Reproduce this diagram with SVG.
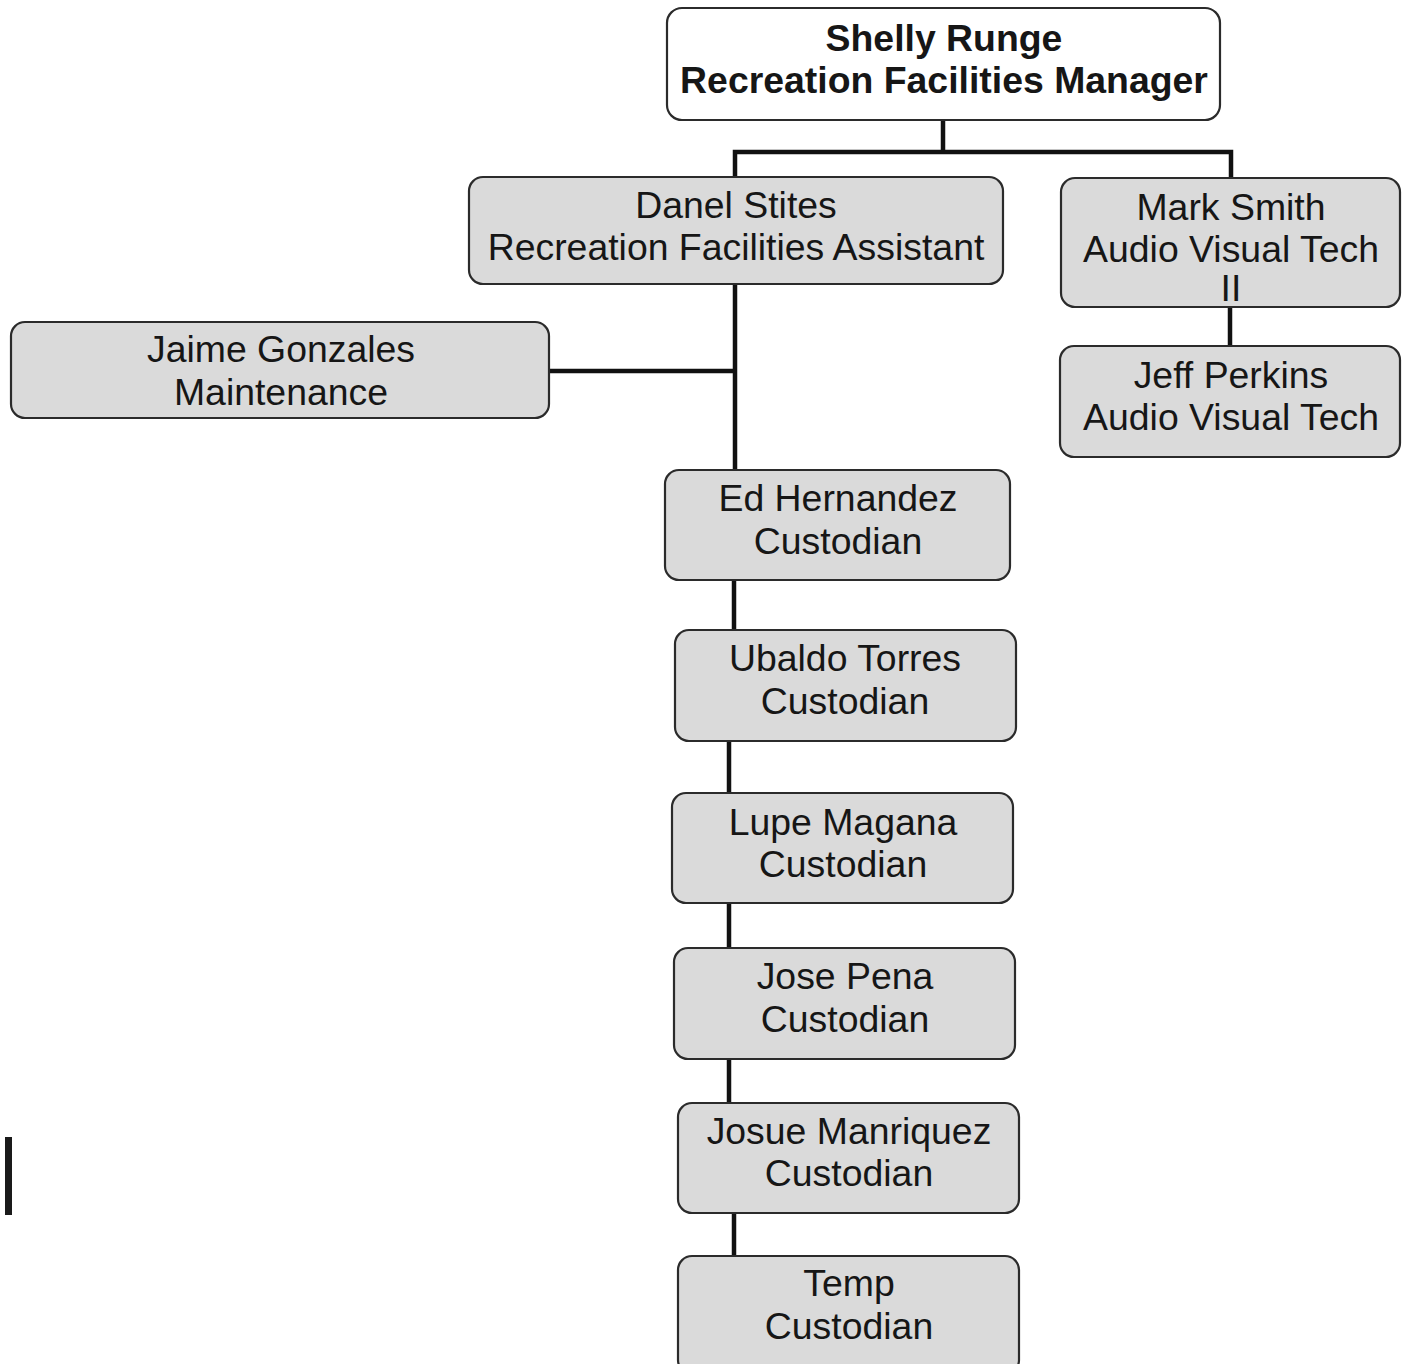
<svg xmlns="http://www.w3.org/2000/svg" width="1408" height="1364" viewBox="0 0 1408 1364">
  <style>
    .box { fill: #dadada; stroke: #2b2b2b; stroke-width: 2.2; }
    .top { fill: #ffffff; stroke: #2b2b2b; stroke-width: 2.2; }
    .lbl { font-family: "Liberation Sans", Arial, sans-serif; font-size: 37.4px; fill: #161616; text-anchor: middle; }
    .bold { font-weight: bold; }
    .wire { fill: none; stroke: #111111; stroke-width: 4.5; stroke-linecap: butt; stroke-linejoin: miter; }
  </style>
  <rect width="1408" height="1364" fill="#ffffff"/>

  <!-- reporting lines -->
  <g id="connectors" class="wire">
    <path d="M943,120 V152 M735,178 V152 H1231 V178"/>
    <path d="M1230,307 V346"/>
    <path d="M735,284 V470 M549,371 H735"/>
    <path d="M734,580 V630"/>
    <path d="M729,741 V793"/>
    <path d="M729,903 V948"/>
    <path d="M729,1059 V1103"/>
    <path d="M734,1213 V1256"/>
  </g>

  <g id="node-manager">
    <rect class="top" x="667" y="8" width="553" height="112" rx="15"/>
    <text class="lbl bold" x="944" y="51">Shelly Runge</text>
    <text class="lbl bold" x="944" y="93">Recreation Facilities Manager</text>
  </g>

  <g id="node-assistant">
    <rect class="box" x="469" y="177" width="534" height="107" rx="14"/>
    <text class="lbl" x="736" y="218">Danel Stites</text>
    <text class="lbl" x="736" y="260">Recreation Facilities Assistant</text>
  </g>

  <g id="node-av2">
    <rect class="box" x="1061" y="178" width="339" height="129" rx="14"/>
    <text class="lbl" x="1231" y="220">Mark Smith</text>
    <text class="lbl" x="1231" y="262">Audio Visual Tech</text>
    <text class="lbl" x="1231" y="301">II</text>
  </g>

  <g id="node-av">
    <rect class="box" x="1060" y="346" width="340" height="111" rx="14"/>
    <text class="lbl" x="1231" y="388">Jeff Perkins</text>
    <text class="lbl" x="1231" y="430">Audio Visual Tech</text>
  </g>

  <g id="node-maintenance">
    <rect class="box" x="11" y="322" width="538" height="96" rx="14"/>
    <text class="lbl" x="281" y="362">Jaime Gonzales</text>
    <text class="lbl" x="281" y="405">Maintenance</text>
  </g>

  <g id="node-ed">
    <rect class="box" x="665" y="470" width="345" height="110" rx="14"/>
    <text class="lbl" x="838" y="511">Ed Hernandez</text>
    <text class="lbl" x="838" y="554">Custodian</text>
  </g>

  <g id="node-ubaldo">
    <rect class="box" x="675" y="630" width="341" height="111" rx="14"/>
    <text class="lbl" x="845" y="671">Ubaldo Torres</text>
    <text class="lbl" x="845" y="714">Custodian</text>
  </g>

  <g id="node-lupe">
    <rect class="box" x="672" y="793" width="341" height="110" rx="14"/>
    <text class="lbl" x="843" y="835">Lupe Magana</text>
    <text class="lbl" x="843" y="877">Custodian</text>
  </g>

  <g id="node-jose">
    <rect class="box" x="674" y="948" width="341" height="111" rx="14"/>
    <text class="lbl" x="845" y="989">Jose Pena</text>
    <text class="lbl" x="845" y="1032">Custodian</text>
  </g>

  <g id="node-josue">
    <rect class="box" x="678" y="1103" width="341" height="110" rx="14"/>
    <text class="lbl" x="849" y="1144">Josue Manriquez</text>
    <text class="lbl" x="849" y="1186">Custodian</text>
  </g>

  <g id="node-temp">
    <rect class="box" x="678" y="1256" width="341" height="118" rx="14"/>
    <text class="lbl" x="849" y="1296">Temp</text>
    <text class="lbl" x="849" y="1339">Custodian</text>
  </g>

  <!-- margin mark -->
  <rect x="5" y="1137" width="7" height="78" fill="#1a1a1a"/>
</svg>
